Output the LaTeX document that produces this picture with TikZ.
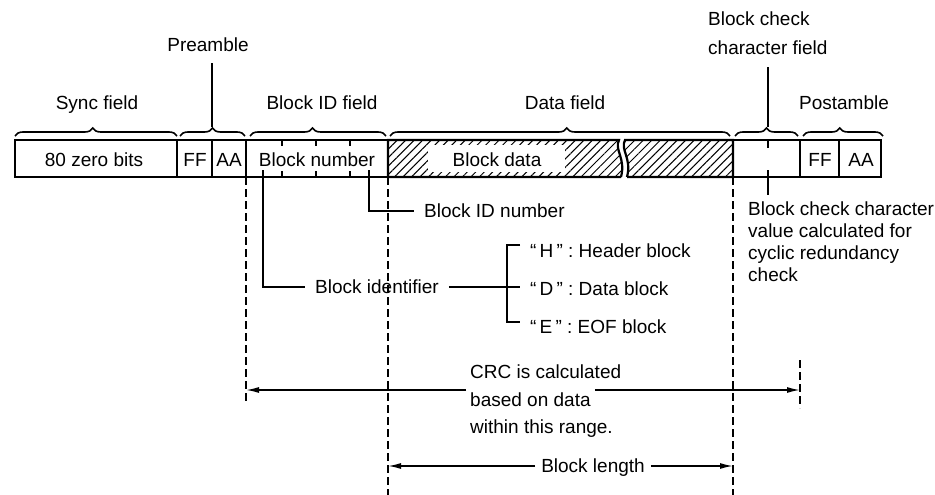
\documentclass[tikz,border=0pt]{standalone}
\usepackage{fontspec}
\setmainfont{Liberation Sans}
\usetikzlibrary{arrows.meta, decorations.pathreplacing, patterns.meta}

\tikzset{
    txt/.style={inner sep=0pt, text height=13.6pt, text depth=0pt, font=\fontsize{19}{22}\selectfont},
    note/.style={inner sep=0pt, align=left, font=\fontsize{19}{22}\selectfont},
    frame/.style={line width=2.2pt},
    lead/.style={line width=1.6pt},
    fbrace/.style={lead, decorate, decoration={brace, amplitude=8pt, aspect=#1}},
    guide/.style={line width=1.5pt, dash pattern=on 8pt off 4pt},
    dim/.style={lead, -{Latex[length=13pt,width=6pt]}},
    hatch/.style={pattern={Lines[angle=45, distance=6pt, line width=1pt]}}
}

\begin{document}
\begin{tikzpicture}[x=1pt,y=-1pt]
    \useasboundingbox (0,0) rectangle (935,495);
    \fill[white] (0,0) rectangle (935,495);

    \draw[frame, hatch] (621,177) -- (388,177) -- (388,140) -- (619,140) .. controls (614,150) and (626,158) .. (621,177);
    \draw[frame, hatch] (627,177) -- (733,177) -- (733,140) -- (625,140) .. controls (620,150) and (632,158) .. (627,177);
    \fill[white] (428,145) rectangle (565,172);
    \draw[frame] (15,140) rectangle (177,177) (177,140) rectangle (212,177) (212,140) rectangle (246,177) (246,140) rectangle (388,177);
    \draw[frame] (733,140) rectangle (800,177) (800,140) rectangle (839,177) (839,140) rectangle (881,177);
    \foreach \x in {282,316,350}
        \draw[lead] (\x,140) -- (\x,146) (\x,171) -- (\x,177);
    \draw[lead] (768,140) -- (768,148);

    \node[txt] (zero) at (94,160) {80 zero bits};
    \node[txt] (preFF) at (195,160) {FF};
    \node[txt] (preAA) at (229,160) {AA};
    \node[txt] (blknum) at (317,160) {Block number};
    \node[txt] (blkdata) at (497,160) {Block data};
    \node[txt] (postFF) at (820,160) {FF};
    \node[txt] (postAA) at (861,160) {AA};

    \draw[fbrace=0.48] (15,136) -- (177,136);
    \draw[fbrace=0.5] (180,136) -- (245,136);
    \draw[fbrace=0.46] (250,136) -- (386,136);
    \draw[fbrace=0.52] (390,136) -- (730,136);
    \draw[fbrace=0.5] (735,136) -- (798,136);
    \draw[fbrace=0.46] (803,136) -- (883,136);

    \node[txt] (sync) at (97,103) {Sync field};
    \node[txt] (pre) at (208,45) {Preamble};
    \node[txt] (blkid) at (322,103) {Block ID field};
    \node[txt] (data) at (565,103) {Data field};
    \node[note, anchor=north west] (bcc) at (708,12) {Block check\\[7pt]character field};
    \node[txt] (post) at (844,103) {Postamble};
    \coordinate (preTip) at (212,127);
    \coordinate (bccTip) at (768,127);
    \draw[lead] (preTip) -- ([yshift=-11pt]pre.south -| preTip);
    \draw[lead] (bccTip) -- ([yshift=-12pt]bcc.south -| bccTip);

    \coordinate (idTop) at (263,170);
    \coordinate (numTop) at (369,170);
    \node[txt, anchor=west] (idnum) at (424,211) {Block ID number};
    \node[txt] (ident) at (377,287) {Block identifier};
    \draw[lead] (numTop) |- ([xshift=-10pt]idnum.west);
    \draw[lead] (idTop) |- ([xshift=-10pt]ident.west);
    \node[txt, anchor=west] (hdr) at (530,251) {``\,H\,''~:~Header block};
    \node[txt, anchor=west] (dat) at (530,289) {``\,D\,''~:~Data block};
    \node[txt, anchor=west] (eof) at (530,327) {``\,E\,''~:~EOF block};
    \coordinate (brkT) at (507,245);
    \coordinate (brkB) at (507,322);
    \draw[lead] ([xshift=10pt]ident.east) -- ([xshift=-10pt]dat.west |- ident);
    \draw[lead] ([xshift=-10pt]hdr.west |- brkT) -- (brkT) -- (brkB) -- ([xshift=-10pt]eof.west |- brkB);

    \coordinate (bccBot) at (768,170);
    \node[note, anchor=north west] (bccval) at (748,202) {Block check character\\value calculated for\\cyclic redundancy\\check};
    \draw[lead] (bccBot) -- ([yshift=7pt]bccval.north -| bccBot);

    \coordinate (idL) at (246,177);
    \coordinate (dataL) at (388,177);
    \coordinate (dataR) at (733,177);
    \draw[guide] (idL) -- (246,402);
    \draw[guide] (dataL) -- (388,495);
    \draw[guide] (dataR) -- (733,495);
    \draw[guide] (800,360) -- (800,408);

    \node[txt, anchor=west] (crcA) at (470,372) {CRC is calculated};
    \node[txt, anchor=west] (crcB) at (470,400) {based on data};
    \node[txt, anchor=west] (crcC) at (470,427) {within this range.};
    \coordinate (crcL) at (246,390);
    \coordinate (crcR) at (800,390);
    \draw[dim] ([xshift=-4pt]crcB.west |- crcL) -- (crcL);
    \draw[dim] ([xshift=4pt]crcB.east |- crcR) -- (crcR);

    \node[txt] (blen) at (593,466) {Block length};
    \coordinate (lenL) at (388,466);
    \coordinate (lenR) at (733,466);
    \draw[dim] ([xshift=-6pt]blen.west) -- (lenL);
    \draw[dim] ([xshift=6pt]blen.east) -- (lenR);
\end{tikzpicture}
\end{document}
